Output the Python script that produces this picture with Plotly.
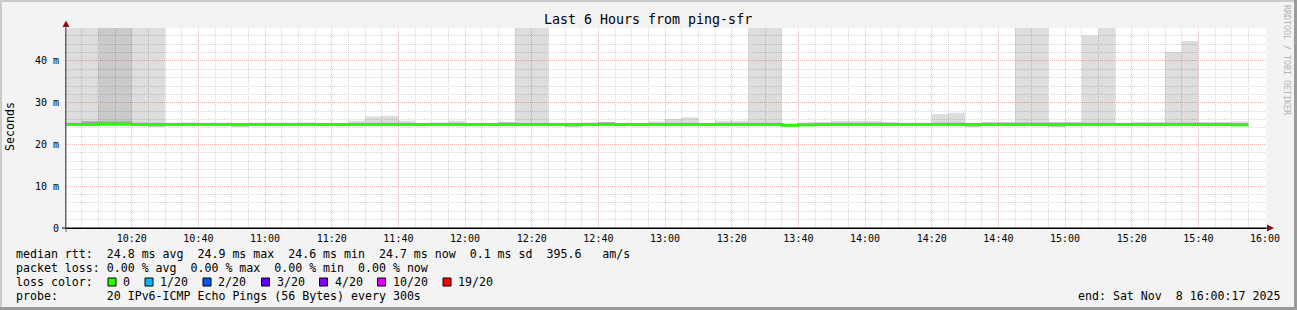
import pandas as pd
import plotly.graph_objects as go

# ---------------- data ----------------
start_time = "2025-11-08 10:00:00"
step_minutes = 5
range_start = "2025-11-08 10:00:17"
range_end = "2025-11-08 16:00:17"

median_ms = [24.8, 24.8, 24.9, 24.9, 24.8, 24.8, 24.8, 24.8, 24.8, 24.8,
             24.8, 24.8, 24.8, 24.8, 24.8, 24.8, 24.8, 24.8, 24.8, 24.8,
             24.8, 24.8, 24.8, 24.8, 24.8, 24.8, 24.8, 24.8, 24.8, 24.8,
             24.8, 24.8, 24.8, 24.8, 24.8, 24.8, 24.8, 24.8, 24.8, 24.8,
             24.8, 24.8, 24.8, 24.6, 24.7, 24.8, 24.8, 24.8, 24.8, 24.8,
             24.8, 24.8, 24.8, 24.8, 24.8, 24.8, 24.8, 24.8, 24.8, 24.8,
             24.8, 24.8, 24.8, 24.8, 24.8, 24.8, 24.8, 24.8, 24.8, 24.8,
             24.7]

# outer smoke: fastest and slowest ping
ping_min_ms = [24.4, 24.4, 24.4, 24.4, 24.4, 24.2, 24.4, 24.4, 24.4, 24.4,
               24.2, 24.4, 24.4, 24.4, 24.4, 24.4, 24.4, 24.4, 24.4, 24.4,
               24.4, 24.4, 24.4, 24.4, 24.3, 24.4, 24.4, 24.4, 24.4, 24.4,
               24.2, 24.4, 24.4, 24.4, 24.4, 24.4, 24.4, 24.4, 24.4, 24.4,
               24.4, 24.4, 24.4, 24.2, 24.3, 24.4, 24.4, 24.4, 24.4, 24.4,
               24.4, 24.4, 24.4, 24.4, 24.2, 24.4, 24.4, 24.4, 24.4, 24.2,
               24.4, 24.4, 24.4, 24.4, 24.4, 24.4, 24.4, 24.4, 24.4, 24.4,
               24.3]
ping_max_ms = [96.0, 88.0, 121.0, 104.0, 91.0, 83.0, 25.2, 25.3, 25.2, 25.2,
               25.1, 25.2, 25.2, 25.2, 25.3, 25.1, 25.1, 25.7, 26.7, 26.9,
               25.7, 25.1, 25.3, 25.7, 25.1, 25.1, 25.3, 78.0, 92.0, 25.2,
               25.2, 25.3, 25.4, 25.0, 25.1, 25.5, 26.1, 26.5, 25.0, 25.7,
               25.7, 86.0, 99.0, 24.9, 25.3, 25.4, 25.7, 25.7, 25.6, 25.4,
               25.2, 25.2, 27.3, 27.6, 25.2, 25.4, 25.4, 94.0, 87.0, 25.4,
               25.4, 46.1, 81.0, 25.2, 25.4, 25.4, 42.2, 44.8, 25.4, 25.4,
               25.5]

# second smoke layer: 2nd fastest / 2nd slowest ping
ping2_lo_ms = [24.5] * 71
ping2_hi_ms = [25.3, 25.6, 98.0, 71.0, 25.4, 25.3, 25.1, 25.1, 25.1, 25.1,
               25.0, 25.1, 25.1, 25.1, 25.1, 25.0, 25.0, 25.2, 25.3, 25.3,
               25.2, 25.0, 25.1, 25.2, 25.0, 25.0, 25.2, 25.2, 25.2, 25.1,
               25.0, 25.1, 25.2, 24.9, 25.0, 25.2, 25.3, 25.3, 24.9, 25.2,
               25.2, 25.3, 25.3, 24.8, 25.1, 25.2, 25.3, 25.3, 25.3, 25.2,
               25.1, 25.1, 25.4, 25.4, 25.1, 25.2, 25.2, 25.3, 25.3, 25.2,
               25.2, 25.3, 25.3, 25.1, 25.2, 25.2, 25.4, 25.4, 25.2, 25.2,
               25.2]

# inner core of the smoke
core_lo_ms = [24.6, 24.6, 24.6, 24.6, 24.6, 24.3, 24.6, 24.6, 24.6, 24.6,
              24.3, 24.6, 24.6, 24.6, 24.6, 24.6, 24.6, 24.6, 24.6, 24.6,
              24.6, 24.6, 24.6, 24.6, 24.5, 24.6, 24.6, 24.6, 24.6, 24.6,
              24.3, 24.6, 24.6, 24.6, 24.6, 24.6, 24.6, 24.6, 24.6, 24.6,
              24.6, 24.6, 24.6, 24.3, 24.5, 24.6, 24.6, 24.6, 24.6, 24.6,
              24.6, 24.6, 24.6, 24.6, 24.3, 24.6, 24.6, 24.6, 24.6, 24.3,
              24.6, 24.6, 24.6, 24.6, 24.6, 24.6, 24.6, 24.6, 24.6, 24.6,
              24.5]
core_hi_ms = [25.0, 25.5, 25.5, 25.5, 25.0, 25.0, 25.0, 25.0, 25.0, 25.0,
              24.9, 25.0, 25.0, 25.0, 25.0, 25.0, 25.0, 25.0, 25.0, 25.0,
              25.0, 25.0, 25.0, 25.0, 24.9, 25.0, 25.3, 25.0, 25.0, 25.0,
              24.9, 25.0, 25.3, 25.0, 25.0, 25.0, 25.0, 25.0, 25.0, 25.0,
              25.0, 25.0, 25.0, 24.8, 24.9, 25.0, 25.0, 25.0, 25.0, 25.0,
              25.0, 25.0, 25.0, 25.0, 24.9, 25.2, 25.2, 25.2, 25.2, 25.2,
              25.2, 25.0, 25.0, 25.0, 25.0, 25.0, 25.1, 25.1, 25.0, 25.0,
              24.9]

y_tick_vals = [0, 10, 20, 30, 40]
y_tick_text = ["0", "10 m", "20 m", "30 m", "40 m"]

title_text = "Last 6 Hours from ping-sfr"
y_title = "Seconds"
legend_rows = [
    "median rtt:  24.8 ms avg  24.9 ms max  24.6 ms min  24.7 ms now  0.1 ms sd  395.6   am/s",
    "packet loss: 0.00 % avg  0.00 % max  0.00 % min  0.00 % now",
    "loss color:",
    "probe:       20 IPv6-ICMP Echo Pings (56 Bytes) every 300s",
]
end_text = "end: Sat Nov  8 16:00:17 2025"
watermark = "RRDTOOL / TOBI OETIKER"
loss_labels = ["0", "1/20", "2/20", "3/20", "4/20", "10/20", "19/20"]
loss_colors = ["#26ff00", "#00b8ff", "#0059ff", "#5e00ff", "#7e00ff", "#dd00ff", "#ff0000"]

# ---------------- geometry ----------------
W, H = 1297, 310
PL, PR, PT, PB = 66, 1266, 28, 228
Y_TOP = 47.9
MONO = "DejaVu Sans Mono"


def px(x):
    return (x - PL) / (PR - PL)


def py(y):
    return (PB - y) / (PB - PT)


def nb(s):
    return s.replace(" ", "\u00a0")


n = len(median_ms)
times = list(pd.date_range(start_time, periods=n + 1, freq=f"{step_minutes}min"))


def stepy(vals):
    return list(vals) + [vals[-1]]


fig = go.Figure()

layers = [
    (ping_min_ms, ping_max_ms, "rgba(0,0,0,0.133)"),
    (ping2_lo_ms, ping2_hi_ms, "rgba(0,0,0,0.086)"),
    (core_lo_ms, core_hi_ms, "rgba(0,0,0,0.20)"),
]
for lo, hi, col in layers:
    fig.add_trace(go.Scatter(x=times, y=stepy(lo), mode="lines", line=dict(width=0, shape="hv"),
                             hoverinfo="skip", showlegend=False))
    fig.add_trace(go.Scatter(x=times, y=stepy(hi), mode="lines", line=dict(width=0, shape="hv"),
                             fill="tonexty", fillcolor=col, hoverinfo="skip", showlegend=False))

fig.add_trace(go.Scatter(x=times, y=stepy(median_ms), mode="lines",
                         line=dict(color=loss_colors[0], width=3, shape="hv"),
                         hoverinfo="skip", showlegend=False))

grid_minor = "#d6d6d6"
grid_major = "#f2b4b4"

fig.update_xaxes(
    type="date", range=[range_start, range_end],
    tick0="2025-11-08 10:00:00", dtick=20 * 60 * 1000, tickformat="%H:%M",
    showgrid=True, gridcolor=grid_major, griddash="1px,1px", gridwidth=1,
    minor=dict(dtick=5 * 60 * 1000, tick0="2025-11-08 10:00:00", showgrid=True,
               gridcolor=grid_minor, griddash="1px,1px", gridwidth=1),
    showline=True, linecolor="#000000", linewidth=1, zeroline=False,
    ticks="", tickfont=dict(family=MONO, size=10, color="#000"),
    ticklabelstandoff=1, fixedrange=True,
)
fig.update_yaxes(
    range=[0, Y_TOP], tickmode="array", tickvals=y_tick_vals, ticktext=y_tick_text,
    showgrid=True, gridcolor=grid_major, griddash="1px,1px", gridwidth=1,
    minor=dict(tickmode="linear", tick0=0, dtick=2, showgrid=True,
               gridcolor=grid_minor, griddash="1px,1px", gridwidth=1),
    showline=True, linecolor="#666666", linewidth=1, zeroline=False,
    ticks="", tickfont=dict(family=MONO, size=10, color="#000"),
    ticklabelstandoff=4, fixedrange=True,
)

shapes = []
# frame shading
shapes.append(dict(type="rect", xref="paper", yref="paper", x0=px(0), x1=px(W), y0=py(0), y1=py(2),
                   fillcolor="#cbcbcb", line=dict(width=0), layer="above"))
shapes.append(dict(type="rect", xref="paper", yref="paper", x0=px(0), x1=px(2), y0=py(0), y1=py(H),
                   fillcolor="#cbcbcb", line=dict(width=0), layer="above"))
shapes.append(dict(type="rect", xref="paper", yref="paper", x0=px(0), x1=px(W), y0=py(H - 3), y1=py(H),
                   fillcolor="#9b9b9b", line=dict(width=0), layer="above"))
shapes.append(dict(type="rect", xref="paper", yref="paper", x0=px(W - 3), x1=px(W), y0=py(0), y1=py(H),
                   fillcolor="#9b9b9b", line=dict(width=0), layer="above"))
# axis extensions
shapes.append(dict(type="line", xref="paper", yref="paper", x0=px(62), x1=px(1267), y0=py(228), y1=py(228),
                   line=dict(color="#000", width=1), layer="above"))
shapes.append(dict(type="line", xref="paper", yref="paper", x0=px(66), x1=px(66), y0=py(232), y1=py(24),
                   line=dict(color="#666", width=1), layer="above"))
# arrows
shapes.append(dict(type="path", xref="paper", yref="paper",
                   path=f"M {px(62.5)} {py(27)} L {px(69.5)} {py(27)} L {px(66)} {py(20.5)} Z",
                   fillcolor="#8a1212", line=dict(width=0), layer="above"))
shapes.append(dict(type="path", xref="paper", yref="paper",
                   path=f"M {px(1267)} {py(224.5)} L {px(1267)} {py(231.5)} L {px(1274)} {py(228)} Z",
                   fillcolor="#8a1212", line=dict(width=0), layer="above"))

annotations = []


def ann(text, x, y, size, xanchor="left", yanchor="middle", angle=0, color="#000"):
    annotations.append(dict(text=nb(text), x=px(x), y=py(y), xref="paper", yref="paper",
                            xanchor=xanchor, yanchor=yanchor, showarrow=False, textangle=angle,
                            font=dict(family=MONO, size=size, color=color), borderpad=0))


ann(title_text, 648, 19, 13.3, xanchor="center")
ann(y_title, 10, 127, 11.6, xanchor="center", angle=-90)
ann(watermark, 1287, 60, 8.3, xanchor="center", angle=90, color="#b4b4b4")

row_y = [254, 268, 282, 296]
for text, yy in zip(legend_rows, row_y):
    ann(text, 15, yy, 11.6)
ann(end_text, 1281, 296, 11.6, xanchor="right")

sq_left = [108, 145, 203, 261.5, 319.5, 377.5, 443]
for lab, col, x0 in zip(loss_labels, loss_colors, sq_left):
    shapes.append(dict(type="rect", xref="paper", yref="paper", x0=px(x0), x1=px(x0 + 8),
                       y0=py(278), y1=py(286), fillcolor=col, line=dict(color="#000", width=1), layer="above"))
    ann(lab, x0 + 14, 282, 11.6)

fig.update_layout(
    width=W, height=H, autosize=False,
    margin=dict(l=PL, r=W - PR, t=PT, b=H - PB, pad=0),
    paper_bgcolor="#f3f3f3", plot_bgcolor="#ffffff",
    shapes=shapes, annotations=annotations, showlegend=False,
)

fig.write_html("out.html", config={"displayModeBar": False})
